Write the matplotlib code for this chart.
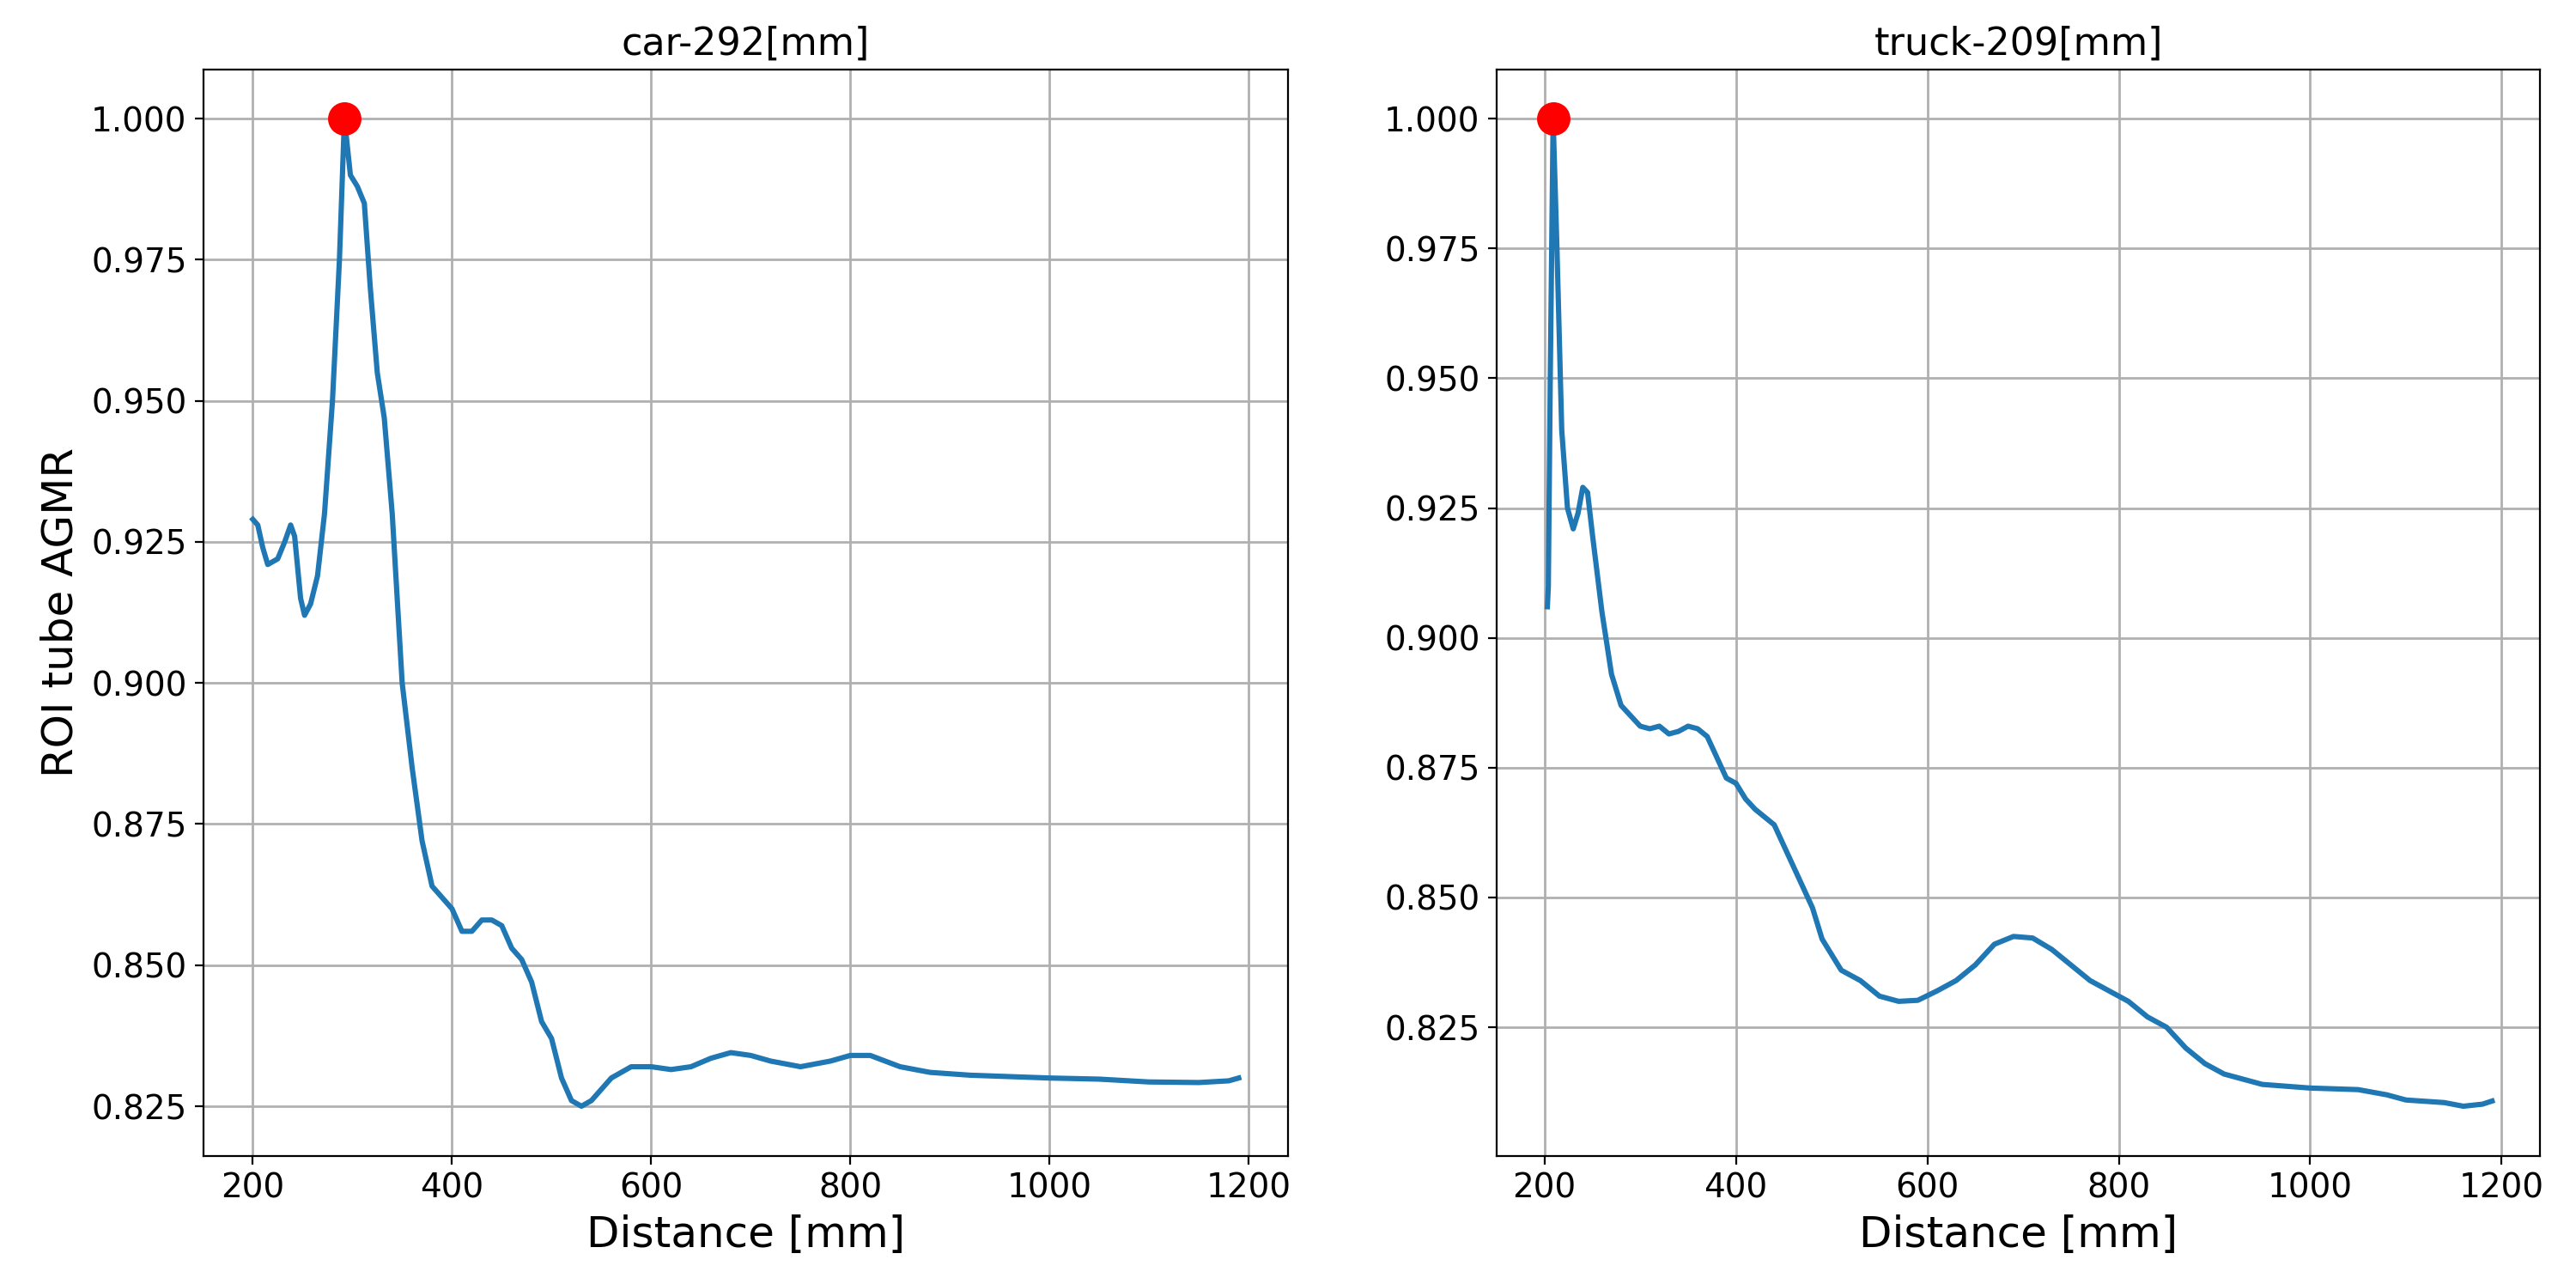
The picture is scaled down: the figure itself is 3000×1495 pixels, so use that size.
import matplotlib
matplotlib.use("Agg")
import matplotlib.pyplot as plt
import numpy as np

car_x = [200,205,210,215,225,232,238,242,248,252,258,265,272,280,287,292,298,305,312,318,325,332,340,350,360,370,380,390,400,410,420,430,440,450,460,470,480,490,500,510,520,530,540,550,560,580,600,620,640,660,680,700,720,750,780,800,820,850,880,920,1000,1050,1100,1150,1180,1190]
car_y = [0.929,0.928,0.924,0.921,0.922,0.925,0.928,0.926,0.915,0.912,0.914,0.919,0.93,0.95,0.975,1.0,0.99,0.988,0.985,0.97,0.955,0.947,0.93,0.9,0.885,0.872,0.864,0.862,0.86,0.856,0.856,0.858,0.858,0.857,0.853,0.851,0.847,0.84,0.837,0.83,0.826,0.825,0.826,0.828,0.83,0.832,0.832,0.8315,0.832,0.8335,0.8345,0.834,0.833,0.832,0.833,0.834,0.834,0.832,0.831,0.8305,0.830,0.8298,0.8293,0.8292,0.8295,0.83]
truck_x = [203,204,206,209,213,218,224,230,235,240,245,250,260,270,280,290,300,310,320,330,340,350,360,370,380,390,400,410,420,440,450,460,470,480,490,500,510,530,550,570,590,610,630,650,670,690,710,730,750,770,790,810,830,850,870,890,910,930,950,1000,1050,1080,1100,1140,1160,1180,1190]
truck_y = [0.906,0.91,0.95,1.0,0.975,0.94,0.925,0.921,0.924,0.929,0.928,0.92,0.905,0.893,0.887,0.885,0.883,0.8825,0.883,0.8815,0.882,0.883,0.8825,0.881,0.877,0.873,0.872,0.869,0.867,0.864,0.86,0.856,0.852,0.848,0.842,0.839,0.836,0.834,0.831,0.83,0.8302,0.832,0.834,0.837,0.841,0.8425,0.8422,0.840,0.837,0.834,0.832,0.83,0.827,0.825,0.821,0.818,0.816,0.815,0.814,0.8133,0.813,0.812,0.811,0.8105,0.8098,0.8102,0.8108]
titles = ["car-292[mm]", "truck-209[mm]"]
peaks = [(292, 1.0), (209, 1.0)]
yticks = [0.825, 0.85, 0.875, 0.9, 0.925, 0.95, 0.975, 1.0]

fig = plt.figure(figsize=(15, 7.475), dpi=200)
ax1 = fig.add_axes([0.079, 0.10, 0.421, 0.846])
ax2 = fig.add_axes([0.581, 0.10, 0.405, 0.846])
for ax, x, y, t, pk in [(ax1, car_x, car_y, titles[0], peaks[0]), (ax2, truck_x, truck_y, titles[1], peaks[1])]:
    ax.plot(x, y, color="#1f77b4", lw=2.2)
    ax.plot([pk[0]], [pk[1]], 'o', color="red", ms=13, zorder=5)
    ax.grid(True, color="#b0b0b0", lw=1)
    ax.set_title(t, fontsize=16)
    ax.set_xlabel("Distance [mm]", fontsize=18)
    ax.set_xticks([200, 400, 600, 800, 1000, 1200])
    ax.set_yticks(yticks)
    ax.yaxis.set_major_formatter(matplotlib.ticker.FormatStrFormatter('%.3f'))
    ax.tick_params(labelsize=14)
ax2.set_xlim(150, 1240)
ax1.set_ylabel("ROI tube AGMR", fontsize=18)
fig.savefig("out.png", dpi=200)
